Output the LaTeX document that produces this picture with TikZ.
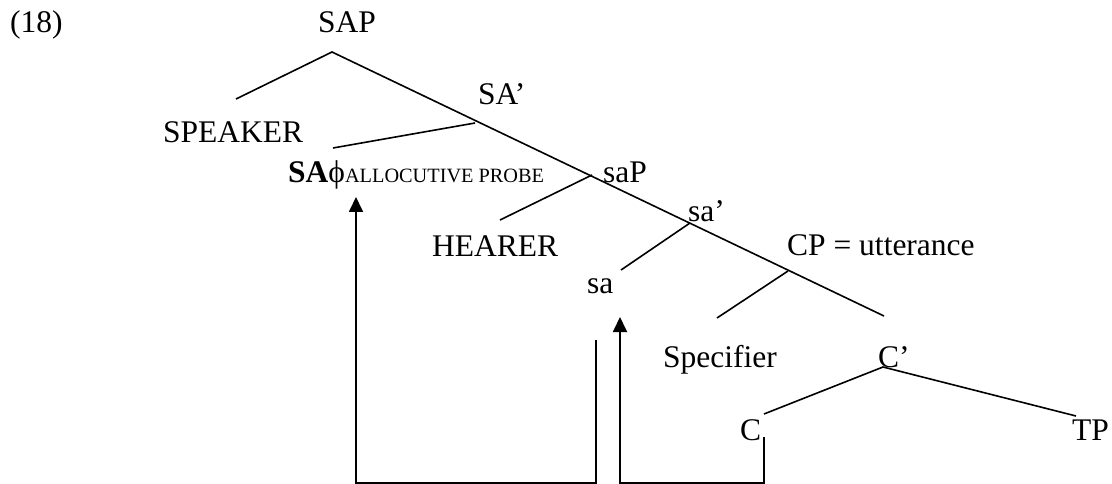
\documentclass[tikz,border=0pt]{standalone}
\usepackage{fontspec}
\setmainfont{Liberation Serif}
\usetikzlibrary{arrows.meta}
\tikzset{
  lbl/.style={inner sep=0pt, anchor=base west, font=\fontsize{31.5}{36}\selectfont},
  edge/.style={line width=1.6pt},
  mover/.style={line width=1.8pt},
  tip/.style={-{Triangle[length=15pt,width=14pt]}}
}
\begin{document}
\begin{tikzpicture}[x=1pt,y=-1pt]
\useasboundingbox (0,0) rectangle (1112,484);
% labels
\node[lbl] (ex) at (10,33) {(18)};
\node[lbl] (sap) at (318,33) {SAP};
\node[lbl] (sabar) at (478,105) {SA’};
\node[lbl] (spk) at (163,143) {SPEAKER};
\node[lbl] (sahead) at (288,183) {\textbf{SA}ϕ\fontsize{20.3}{22}\selectfont ALLOCUTIVE PROBE};
\node[lbl] (sap2) at (603,183) {saP};
\node[lbl] (hearer) at (432,256) {HEARER};
\node[lbl] (sabar2) at (688,222) {sa’};
\node[lbl] (cp) at (787,255) {CP = utterance};
\node[lbl] (sa) at (587,293) {sa};
\node[lbl] (spec) at (663,367) {Specifier};
\node[lbl] (cbar) at (878,367) {C’};
\node[lbl] (c) at (740,440) {C};
\node[lbl] (tp) at (1072,440) {TP};
% tree points
\coordinate (top) at (332,52);
\coordinate (spkend) at (236,99);
\coordinate (spine) at (884,316);
\coordinate (sabarpt) at (475,123);
\coordinate (saheadend) at (333,148);
\coordinate (sap2pt) at (592,175);
\coordinate (hearerend) at (500,220);
\coordinate (sabar2pt) at (690,223);
\coordinate (saend) at (621,270);
\coordinate (cppt) at (788,271);
\coordinate (specend) at (717,318);
\coordinate (cbarpt) at (883,367);
\coordinate (cend) at (764,414);
\coordinate (tpend) at (1076,416);
\draw[edge] (spkend) -- (top) -- (spine);
\draw[edge] (sabarpt) -- (saheadend);
\draw[edge] (sap2pt) -- (hearerend);
\draw[edge] (sabar2pt) -- (saend);
\draw[edge] (cppt) -- (specend);
\draw[edge] (cend) -- (cbarpt) -- (tpend);
% movement arrows
\coordinate (m1start) at (596,340);
\coordinate (m1tip) at (356,197);
\coordinate (m2start) at (764,437);
\coordinate (m2tip) at (620,317);
\draw[mover,tip] (m1start) -- (596,483) -| (m1tip);
\draw[mover,tip] (m2start) -- (764,483) -| (m2tip);
\end{tikzpicture}
\end{document}
